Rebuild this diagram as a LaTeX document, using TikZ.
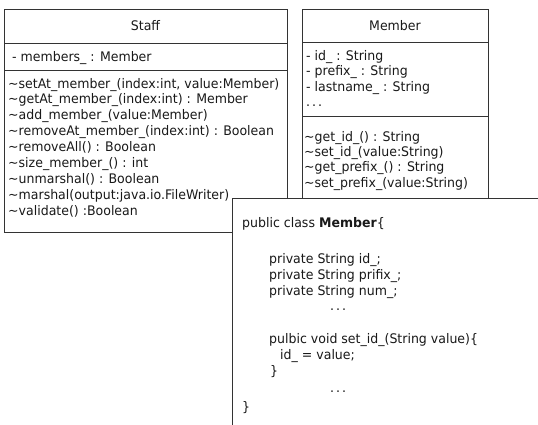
\documentclass[tikz,border=0pt]{standalone}
\usepackage{fontspec}
\setmainfont{DejaVu Sans}[FakeStretch=0.95]
\newcommand\umlfont{\fontsize{13.2}{16}\selectfont}
\tikzset{
  frame/.style={draw=black!80, line width=0.9pt},
  txt/.style={anchor=base west, inner sep=0pt, font=\umlfont, text=black!90},
  ttl/.style={anchor=base, inner sep=0pt, font=\umlfont, text=black!90},
}
\begin{document}
\begin{tikzpicture}[x=1pt,y=-1pt]
\useasboundingbox (0,0) rectangle (538,424);

% class Staff
\draw[frame] (4,9) rectangle (287,232);
\draw[frame] (4,43) -- (287,43);
\draw[frame] (4,70) -- (287,70);
\node[ttl] (staffname) at (145.5,30) {Staff};
\node[txt] (staffattr) at (12,61) {- members\_ : Member};
\foreach \t [count=\i] in {
  {\textasciitilde setAt\_member\_(index:int, value:Member)},
  {\textasciitilde getAt\_member\_(index:int) : Member},
  {\textasciitilde add\_member\_(value:Member)},
  {\textasciitilde removeAt\_member\_(index:int) : Boolean},
  {\textasciitilde removeAll() : Boolean},
  {\textasciitilde size\_member\_() : int},
  {\textasciitilde unmarshal() : Boolean},
  {\textasciitilde marshal(output:java.io.FileWriter)},
  {\textasciitilde validate() :Boolean}}
  \node[txt] (staffop\i) at (8,{88+15.9*(\i-1)}) {\t};

% class Member
\draw[frame] (302,9) rectangle (488,232);
\draw[frame] (302,42) -- (488,42);
\draw[frame] (302,116) -- (488,116);
\node[ttl] (membername) at (395,30) {Member};
\node[txt] (memberattr1) at (306,60) {- id\_ : String};
\node[txt] (memberattr2) at (306,75.5) {- prefix\_ : String};
\node[txt] (memberattr3) at (306,91) {- lastname\_ : String};
\node[txt] (memberattr4) at (306,106.5) {.\kern2pt.\kern2pt.};
\node[txt] (memberop1) at (304,141) {\textasciitilde get\_id\_() : String};
\node[txt] (memberop2) at (304,156.4) {\textasciitilde set\_id\_(value:String)};
\node[txt] (memberop3) at (304,171.8) {\textasciitilde get\_prefix\_() : String};
\node[txt] (memberop4) at (304,187.2) {\textasciitilde set\_prefix\_(value:String)};

% source listing of Member, laid over both classes
\fill[white] (232,198) rectangle (540,426);
\draw[frame] (538.5,198) -- (232,198) -- (232,426);
\node[txt] (code1) at (242,227) {public class \textbf{Member}\{};
\node[txt] (code2) at (269,263) {private String id\_;};
\node[txt] (code3) at (269,279) {private String prifix\_;};
\node[txt] (code4) at (269,295) {private String num\_;};
\node[txt] (code5) at (330,310) {.\kern2pt.\kern2pt.};
\node[txt] (code6) at (269,343) {pulbic void set\_id\_(String value)\{};
\node[txt] (code7) at (280,359) {id\_ = value;};
\node[txt] (code8) at (270,375) {\}};
\node[txt] (code9) at (330,392) {.\kern2pt.\kern2pt.};
\node[txt] (code10) at (242,411) {\}};
\end{tikzpicture}
\end{document}
